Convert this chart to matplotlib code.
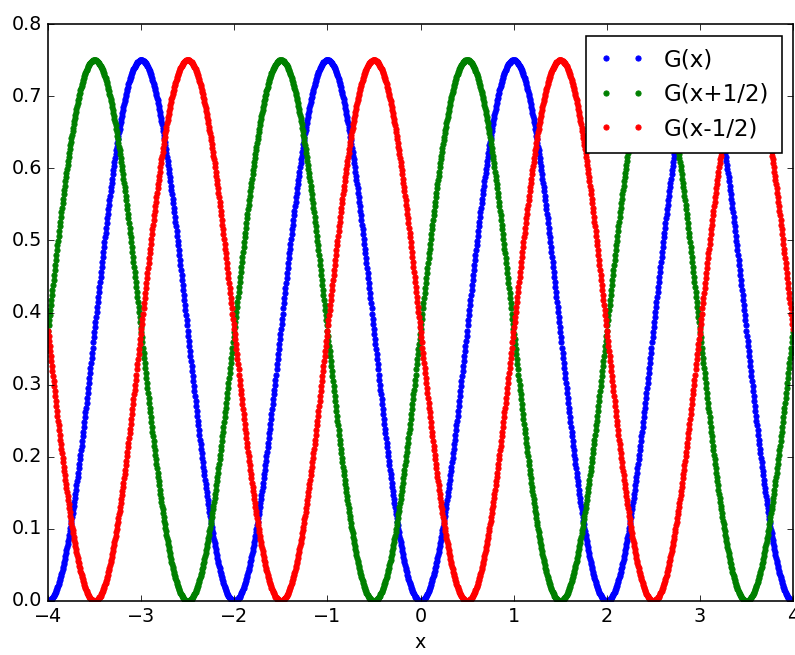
import numpy as np
import matplotlib
matplotlib.use("Agg")
import matplotlib.pyplot as plt

plt.style.use("classic")

# Values
peak = 0.75            # maximum of G
period = 2.0           # G has zeros at even x, peaks at odd x
shifts = [0.0, 0.5, -0.5]
labels = ["G(x)", "G(x+1/2)", "G(x-1/2)"]
colors = ["b", "g", "r"]
x_range = (-4.0, 4.0)
step = 0.006
y_range = (0.0, 0.8)

k = 1.15  # overall scale of the reference rendering
plt.rcParams.update({
    "font.size": 12 * k,
    "xtick.labelsize": 12 * k,
    "ytick.labelsize": 12 * k,
    "axes.labelsize": 12 * k,
    "legend.fontsize": 14.4 * k,
    "axes.linewidth": 1.0 * k,
    "xtick.major.size": 4 * k,
    "ytick.major.size": 4 * k,
    "xtick.major.width": 0.5 * k,
    "ytick.major.width": 0.5 * k,
    "lines.markeredgewidth": 0.6 * k,
    "legend.frameon": True,
})

x = np.arange(x_range[0], x_range[1] + step / 2, step)

fig = plt.figure(figsize=(7.95, 6.55), dpi=100)
ax = fig.add_axes([48 / 795, 1 - 601 / 655, (793 - 48) / 795, (601 - 24) / 655])

for s, lab, c in zip(shifts, labels, colors):
    y = peak * np.sin(np.pi * (x + s) / period) ** 2
    ax.plot(x, y, ".", color=c, label=lab, markersize=7.5)

ax.set_xlim(*x_range)
ax.set_ylim(*y_range)
ax.set_xlabel("x")
leg = ax.legend(loc="upper right", numpoints=2, borderpad=0.55)
leg.get_frame().set_linewidth(1.0 * k)

fig.savefig("out.png", dpi=100)
